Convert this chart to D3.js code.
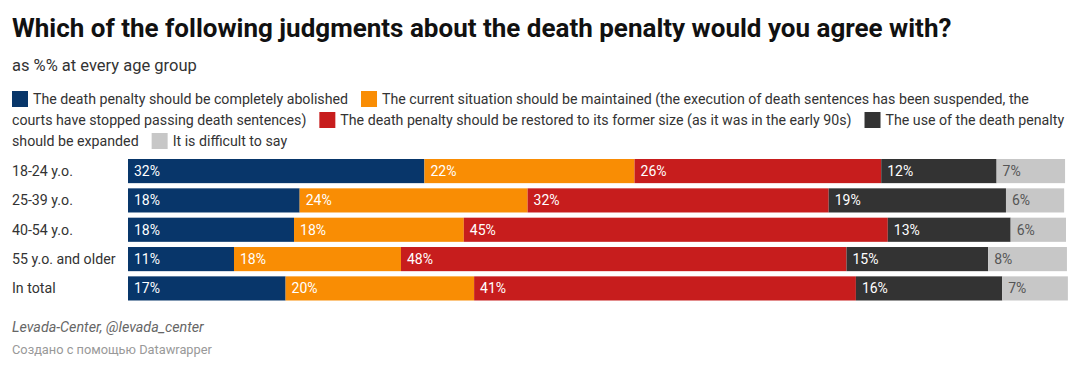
<!DOCTYPE html>
<html>
<head>
<meta charset="utf-8">
<script src="https://cdn.jsdelivr.net/npm/d3@7"></script>
<style>
  body { margin: 0; background: #fff; font-family: Roboto, sans-serif; }
</style>
</head>
<body>
<div class="draw"></div>
<script>
// data
const groups = ["18-24 y.o.", "25-39 y.o.", "40-54 y.o.", "55 y.o. and older", "In total"];
const seriesNames = [
  "The death penalty should be completely abolished",
  "The current situation should be maintained (the execution of death sentences has been suspended, the courts have stopped passing death sentences)",
  "The death penalty should be restored to its former size (as it was in the early 90s)",
  "The use of the death penalty should be expanded",
  "It is difficult to say"
];
const abolished  = [31.6, 18.3, 17.7, 11.3, 16.8];
const maintained = [22.4, 24.3, 18.1, 17.8, 20.1];
const restored   = [26.3, 32.1, 45.2, 47.5, 40.7];
const expanded   = [12.3, 18.9, 13.1, 15.1, 15.6];
const difficult  = [7.3, 6.2, 5.9, 8.4, 7.0];
const labels = [
  [32, 18, 18, 11, 17],
  [22, 24, 18, 18, 20],
  [26, 32, 45, 48, 41],
  [12, 19, 13, 15, 16],
  [7, 6, 6, 8, 7]
];

const colors = ["#08366a", "#f98d04", "#c71d1d", "#333333", "#c7c7c7"];
const textColors = ["#fff", "#fff", "#fff", "#fff", "#555"];

const width = 1080, height = 371;
const svg = d3.select(".draw")
    .append("svg")
    .attr("width", width)
    .attr("height", height);

// title + subtitle
svg.append("text")
    .attr("x", 12).attr("y", 37)
    .attr("font-size", 26).attr("font-weight", 700).attr("fill", "#111")
    .text("Which of the following judgments about the death penalty would you agree with?");
svg.append("text")
    .attr("x", 12).attr("y", 71)
    .attr("font-size", 16.5).attr("fill", "#333")
    .text("as %% at every age group");

// legend, flowing like inline text
const legend = svg.append("g").attr("font-size", 14.2).attr("fill", "#333");
const legendLeft = 12, legendRight = 1066, lineH = 21;
let lx = legendLeft, ly = 104;
const measure = legend.append("text").attr("visibility", "hidden");
const wordW = w => { measure.text(w); return measure.node().getComputedTextLength(); };

seriesNames.forEach((name, i) => {
  if (lx + 21 > legendRight) { lx = legendLeft; ly += lineH; }
  legend.append("rect")
      .attr("x", lx).attr("y", ly - 13)
      .attr("width", 16).attr("height", 16)
      .attr("fill", colors[i]);
  lx += 21;
  let line = legend.append("text").attr("x", lx).attr("y", ly);
  let cur = "";
  let startX = lx;
  name.split(" ").forEach(w => {
    const test = cur ? cur + " " + w : w;
    if (startX + wordW(test) > legendRight && cur) {
      line.text(cur);
      ly += lineH;
      startX = legendLeft;
      line = legend.append("text").attr("x", startX).attr("y", ly);
      cur = w;
    } else {
      cur = test;
    }
  });
  line.text(cur);
  lx = startX + wordW(cur) + 13;
});
measure.remove();

// bars
const x = d3.scaleLinear().domain([0, 100]).range([128, 1066]);
const y = d3.scaleBand().domain(groups).range([159, 300.5]).paddingInner(0.177).paddingOuter(0);

const series = [abolished, maintained, restored, expanded, difficult];
const rows = groups.map((g, gi) => {
  let acc = 0;
  return series.map((s, si) => {
    const seg = { group: g, si, x0: acc, x1: acc + s[gi], label: labels[si][gi] };
    acc += s[gi];
    return seg;
  });
});

const rowLabels = svg.append("g").attr("font-size", 14.2).attr("fill", "#333");
rowLabels.selectAll("text")
    .data(groups)
    .join("text")
    .attr("x", 12)
    .attr("y", d => y(d) + y.bandwidth() / 2)
    .attr("dy", "0.35em")
    .text(d => d);

const barG = svg.append("g");
rows.forEach(row => {
  const g = barG.append("g");
  g.selectAll("rect")
      .data(row)
      .join("rect")
      .attr("x", d => x(d.x0))
      .attr("width", d => x(d.x1) - x(d.x0))
      .attr("y", d => y(d.group))
      .attr("height", y.bandwidth())
      .attr("fill", d => colors[d.si]);
  g.selectAll("text")
      .data(row)
      .join("text")
      .attr("x", d => x(d.x0) + 6)
      .attr("y", d => y(d.group) + y.bandwidth() / 2)
      .attr("dy", "0.36em")
      .attr("font-size", 14)
      .attr("fill", d => textColors[d.si])
      .text(d => d.label + "%");
});

// footer
svg.append("text")
    .attr("x", 12).attr("y", 332)
    .attr("font-size", 14.3).attr("font-style", "italic").attr("fill", "#666")
    .text("Levada-Center, @levada_center");
svg.append("text")
    .attr("x", 12).attr("y", 354)
    .attr("font-size", 12.8).attr("fill", "#999")
    .text("Создано с помощью Datawrapper");
</script>
</body>
</html>
